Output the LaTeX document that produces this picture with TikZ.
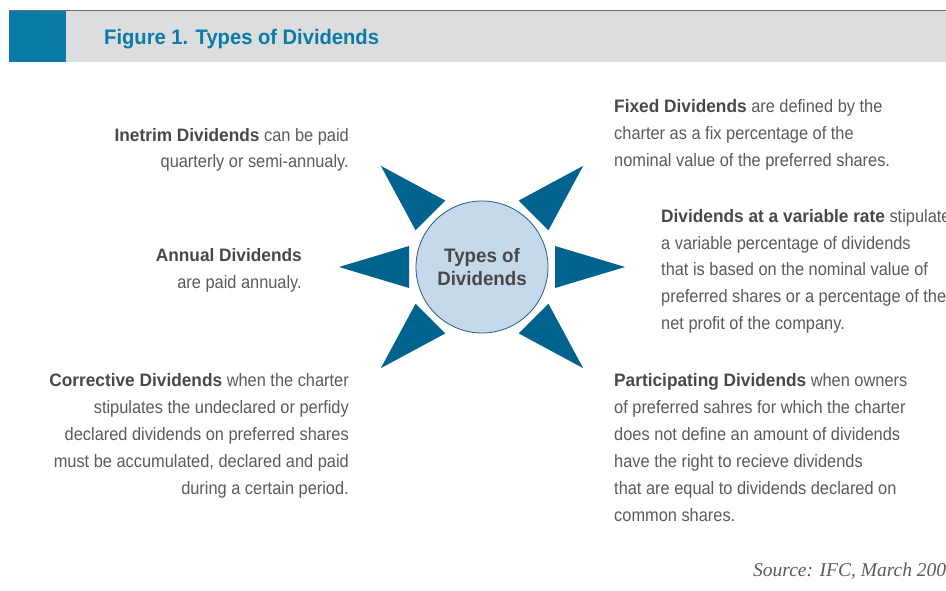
\documentclass[tikz,border=0pt]{standalone}
\usepackage{fontspec}
\setmainfont{Liberation Sans}[FakeStretch=0.91, BoldFeatures={FakeStretch=0.96}]
\newfontfamily\srcfont{Liberation Serif}
\usetikzlibrary{positioning}
\definecolor{ifcteal}{HTML}{0A7BA6}
\definecolor{bandgray}{HTML}{DCDDDF}
\definecolor{rulegray}{HTML}{707070}
\definecolor{spikeblue}{HTML}{00628F}
\definecolor{hubfill}{HTML}{C6D9EA}
\definecolor{hubline}{HTML}{1D5E8A}
\definecolor{txtgray}{HTML}{5A5A5A}
\definecolor{boldgray}{HTML}{484848}
\newcommand{\kind}[1]{\textbf{\color{boldgray}#1}}
\tikzset{
    %Define style for the side texts
    typetext/.style={
           inner sep=0pt,
           text=txtgray,
           font=\fontsize{18}{27}\selectfont},
    lefttext/.style={
           typetext,
           anchor=base east,
           align=right},
    righttext/.style={
           typetext,
           anchor=base west,
           align=left},
    %Define style for the centre circle
    hub/.style={
           circle,
           draw=hubline, line width=0.8pt,
           fill=hubfill,
           minimum size=132pt,
           inner sep=0pt,
           text=boldgray,
           align=center,
           font=\bfseries\fontsize{19.5}{23}\selectfont},
    % Define spike style
    spike/.style={
           fill=spikeblue},
    title/.style={
           anchor=base west,
           inner sep=0pt,
           text=ifcteal,
           font=\bfseries\fontsize{21}{26}\selectfont}
}
\begin{document}
\begin{tikzpicture}[x=1pt,y=-1pt]
\useasboundingbox (0,0) rectangle (946,591);
 %header
\fill[bandgray] (9,11) rectangle (946,62);
\fill[ifcteal] (9,11) rectangle (66,62);
\draw[rulegray, line width=1.4pt] (9,10.3) -- (946,10.3);
\node[title] (title) at (104,45) {Figure 1. Types of Dividends};
 %centre and spikes
\node[hub] (hub) at (482,267) {Types of\\Dividends};
\foreach \a in {0,45,135,180,225,315}
    \fill[spike, shift={(hub.center)}, rotate=\a] (73,21) -- (143,0) -- (73,-21) -- cycle;
 %texts (placed at the baseline of their last line)
\node[lefttext] (interim) at (349,168) {\kind{Inetrim Dividends} can be paid\\quarterly or semi-annualy.};
\node[lefttext] (annual) at (302,288) {\kind{Annual Dividends}\\are paid annualy.};
\node[lefttext] (corrective) at (349,494) {\kind{Corrective Dividends} when the charter\\stipulates the undeclared or perfidy\\declared dividends on preferred shares\\must be accumulated, declared and paid\\during a certain period.};
\node[righttext] (fixed) at (614,167) {\kind{Fixed Dividends} are defined by the\\charter as a fix percentage of the\\nominal value of the preferred shares.};
\node[righttext] (variable) at (661,330) {\kind{Dividends at a variable rate} stipulates\\a variable percentage of dividends\\that is based on the nominal value of\\preferred shares or a percentage of the\\net profit of the company.};
\node[righttext] (participating) at (614,521) {\kind{Participating Dividends} when owners\\of preferred sahres for which the charter\\does not define an amount of dividends\\have the right to recieve dividends\\that are equal to dividends declared on\\common shares.};
\node[anchor=base west, inner sep=0pt, text=txtgray, font=\srcfont\itshape\fontsize{19.5}{23}\selectfont] (source) at (753,576) {Source: IFC, March 200};
\end{tikzpicture}
\end{document}
